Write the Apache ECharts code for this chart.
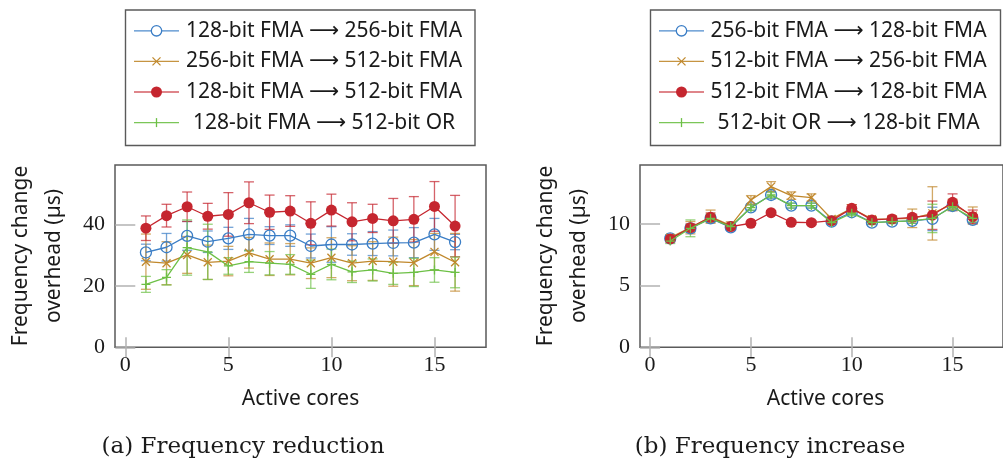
<!DOCTYPE html>
<html>
<head>
<meta charset="utf-8">
<title>Frequency change overhead</title>
<script src="https://cdn.jsdelivr.net/npm/echarts@6/dist/echarts.min.js"></script>
<style>
  html, body { margin: 0; padding: 0; background: #fff; }
  #chart { width: 1003px; height: 463px; }
</style>
</head>
<body>
<div id="chart"></div>
<script>
// ---- data ----
const cores = [1, 2, 3, 4, 5, 6, 7, 8, 9, 10, 11, 12, 13, 14, 15, 16];
const xTicks = [0, 5, 10, 15];
const yTicksReduction = [0, 20, 40];
const yTicksIncrease = [0, 5, 10];

// (a) Frequency reduction: mean overhead in µs and error half-width
const reductionNames = [
  '128-bit FMA \u27F6 256-bit FMA',
  '256-bit FMA \u27F6 512-bit FMA',
  '128-bit FMA \u27F6 512-bit FMA',
  '128-bit FMA \u27F6 512-bit OR'
];
const red128to256 = [30.9, 32.6, 36.3, 34.4, 35.5, 36.8, 36.4, 36.4, 33.0, 33.5, 33.5, 33.8, 34.0, 34.1, 36.8, 34.3];
const red128to256Err = [2.7, 4.5, 4.7, 3.5, 3.6, 5.2, 2.9, 3.5, 3.9, 5.8, 3.5, 3.9, 4.2, 4.9, 5.2, 2.5];
const red256to512 = [27.9, 27.4, 30.1, 27.7, 28.1, 30.8, 28.7, 28.7, 27.4, 29.2, 27.4, 28.1, 27.9, 27.6, 31.1, 27.7];
const red256to512Err = [9.0, 7.0, 6.0, 5.6, 4.8, 5.0, 5.3, 5.1, 5.0, 6.5, 5.7, 6.3, 8.0, 7.5, 6.0, 9.4];
const red128to512 = [38.8, 42.9, 45.8, 42.7, 43.3, 47.1, 44.0, 44.4, 40.4, 44.7, 40.9, 42.0, 41.2, 41.7, 45.9, 39.5];
const red128to512Err = [4.0, 3.7, 4.8, 4.2, 7.1, 6.8, 5.6, 5.0, 7.0, 5.2, 6.2, 4.6, 7.3, 7.4, 8.1, 10.0];
const red128to512or = [20.5, 22.8, 32.5, 31.1, 26.5, 27.9, 27.4, 27.0, 23.8, 27.0, 24.6, 25.2, 24.1, 24.4, 25.2, 24.4];
const red128to512orErr = [2.6, 2.5, 9.0, 9.0, 2.7, 3.5, 3.8, 3.2, 4.6, 5.0, 3.5, 3.6, 3.6, 4.6, 4.0, 5.0];

// (b) Frequency increase
const increaseNames = [
  '256-bit FMA \u27F6 128-bit FMA',
  '512-bit FMA \u27F6 256-bit FMA',
  '512-bit FMA \u27F6 128-bit FMA',
  '512-bit OR \u27F6 128-bit FMA'
];
const inc256to128 = [8.83, 9.64, 10.45, 9.72, 11.34, 12.34, 11.48, 11.48, 10.18, 10.94, 10.10, 10.18, 10.24, 10.40, 11.45, 10.32];
const inc256to128Err = [0.2, 0.3, 0.25, 0.2, 0.25, 0.3, 0.2, 0.2, 0.2, 0.2, 0.15, 0.15, 0.2, 0.95, 0.25, 0.2];
const inc512to256 = [8.88, 9.69, 10.58, 9.86, 11.94, 13.02, 12.29, 12.13, 10.40, 11.26, 10.38, 10.40, 10.45, 10.85, 11.59, 10.67];
const inc512to256Err = [0.25, 0.5, 0.54, 0.3, 0.35, 0.4, 0.3, 0.3, 0.2, 0.3, 0.2, 0.25, 0.75, 2.16, 0.4, 0.7];
const inc512to128 = [8.78, 9.69, 10.53, 9.78, 10.05, 10.91, 10.13, 10.10, 10.26, 11.26, 10.32, 10.40, 10.53, 10.70, 11.75, 10.58];
const inc512to128Err = [0.25, 0.3, 0.35, 0.2, 0.15, 0.15, 0.15, 0.15, 0.2, 0.3, 0.2, 0.2, 0.25, 1.15, 0.68, 0.54];
const inc512orTo128 = [8.61, 9.64, 10.45, 9.78, 11.31, 12.34, 11.48, 11.48, 10.10, 10.86, 10.10, 10.18, 10.24, 10.44, 11.39, 10.45];
const inc512orTo128Err = [0.2, 0.68, 0.3, 0.2, 0.2, 0.2, 0.2, 0.2, 0.15, 0.2, 0.15, 0.15, 0.2, 1.15, 0.3, 0.3];

// ---- styling ----
const COLORS = ['#3b7ec6', '#c0882c', '#c5262f', '#6dc046'];
const SANS = '"Noto Sans", "DejaVu Sans", sans-serif';
const SERIF = '"Liberation Serif", serif';
const CAPTION_SERIF = '"DejaVu Serif", serif';
const FRAME = '#5a5a5a';
const TICK = '#b3b3b3';

const MARKS = [
  { symbol: 'circle', size: 11, fill: 'rgba(255,255,255,0)', stroke: true },
  { symbol: 'path://M0 0L10 10M10 0L0 10', size: 8, fill: 'rgba(0,0,0,0)', stroke: true },
  { symbol: 'circle', size: 11, fill: null, stroke: false },
  { symbol: 'path://M5 0L5 10M0 5L10 5', size: 9, fill: 'rgba(0,0,0,0)', stroke: true }
];

function errorBarSeries(gi, means, errs, color, z) {
  return {
    type: 'custom',
    xAxisIndex: gi * 2,
    yAxisIndex: gi * 2,
    z: z,
    silent: true,
    encode: { x: 0, y: [1, 2] },
    data: cores.map((c, i) => [c, means[i] - errs[i], means[i] + errs[i]]),
    renderItem: function (params, api) {
      const x = api.value(0);
      const lo = api.coord([x, api.value(1)]);
      const hi = api.coord([x, api.value(2)]);
      const w = 5;
      const st = { stroke: color, lineWidth: 1.3, opacity: 0.72 };
      return {
        type: 'group',
        children: [
          { type: 'line', shape: { x1: lo[0], y1: lo[1], x2: hi[0], y2: hi[1] }, style: st },
          { type: 'line', shape: { x1: lo[0] - w, y1: lo[1], x2: lo[0] + w, y2: lo[1] }, style: st },
          { type: 'line', shape: { x1: hi[0] - w, y1: hi[1], x2: hi[0] + w, y2: hi[1] }, style: st }
        ]
      };
    }
  };
}

function lineSeries(gi, name, means, k) {
  const m = MARKS[k];
  const c = COLORS[k];
  return {
    type: 'line',
    name: name,
    xAxisIndex: gi * 2,
    yAxisIndex: gi * 2,
    z: 10 + k,
    data: cores.map((x, i) => [x, means[i]]),
    symbol: m.symbol,
    symbolSize: m.size,
    showAllSymbol: true,
    lineStyle: { color: c, width: 1.3 },
    itemStyle: m.stroke
      ? { color: m.fill, borderColor: c, borderWidth: 1.3 }
      : { color: c, borderWidth: 0 },
    emphasis: { disabled: true },
    animation: false
  };
}

function panelSeries(gi, names, meansList, errsList) {
  const out = [];
  meansList.forEach((m, k) => out.push(errorBarSeries(gi, m, errsList[k], COLORS[k], 2 + k)));
  meansList.forEach((m, k) => out.push(lineSeries(gi, names[k], m, k)));
  return out;
}

function xAxes(gi) {
  const tick = { inside: true, length: 10, customValues: xTicks, lineStyle: { color: TICK, width: 1.5 } };
  return [
    {
      gridIndex: gi, type: 'value', min: -0.5, max: 17.5, position: 'bottom',
      axisLine: { show: false }, splitLine: { show: false },
      axisTick: tick,
      axisLabel: { customValues: xTicks, fontFamily: SERIF, fontSize: 22, color: '#1a1a1a', margin: 7 }
    },
    {
      gridIndex: gi, type: 'value', min: -0.5, max: 17.5, position: 'top',
      axisLine: { show: false }, splitLine: { show: false },
      axisTick: tick, axisLabel: { show: false }
    }
  ];
}

function yAxes(gi, max, ticks) {
  const tick = { inside: true, length: 10, customValues: ticks, lineStyle: { color: TICK, width: 1.5 } };
  return [
    {
      gridIndex: gi, type: 'value', min: 0, max: max, position: 'left',
      axisLine: { show: false }, splitLine: { show: false },
      axisTick: tick,
      axisLabel: { customValues: ticks, fontFamily: SERIF, fontSize: 22, color: '#1a1a1a', margin: 10 }
    },
    {
      gridIndex: gi, type: 'value', min: 0, max: max, position: 'right',
      axisLine: { show: false }, splitLine: { show: false },
      axisTick: tick, axisLabel: { show: false }
    }
  ];
}

// legend drawn as a boxed table: sample line + marker, centred label
function legendGraphics(box, names) {
  const els = [];
  els.push({
    type: 'rect', shape: { x: box.x, y: box.y, width: box.w, height: box.h },
    style: { fill: '#fff', stroke: FRAME, lineWidth: 1.4 }, z: 100
  });
  names.forEach((name, k) => {
    const cy = box.y + 20.8 + k * 30.6;
    const c = COLORS[k];
    const sx = box.x + 8.5, ex = sx + 45, mx = (sx + ex) / 2;
    els.push({ type: 'line', shape: { x1: sx, y1: cy, x2: ex, y2: cy },
      style: { stroke: c, lineWidth: 1.3, opacity: k === 2 ? 0.75 : 0.9 }, z: 101 });
    if (k === 0) {
      els.push({ type: 'circle', shape: { cx: mx, cy: cy, r: 5.2 }, style: { fill: '#fff', stroke: c, lineWidth: 1.3 }, z: 102 });
    } else if (k === 1) {
      els.push({ type: 'line', shape: { x1: mx - 4, y1: cy - 4, x2: mx + 4, y2: cy + 4 }, style: { stroke: c, lineWidth: 1.3 }, z: 102 });
      els.push({ type: 'line', shape: { x1: mx - 4, y1: cy + 4, x2: mx + 4, y2: cy - 4 }, style: { stroke: c, lineWidth: 1.3 }, z: 102 });
    } else if (k === 2) {
      els.push({ type: 'circle', shape: { cx: mx, cy: cy, r: 5.5 }, style: { fill: c }, z: 102 });
    } else {
      els.push({ type: 'line', shape: { x1: mx, y1: cy - 4.5, x2: mx, y2: cy + 4.5 }, style: { stroke: c, lineWidth: 1.3 }, z: 102 });
    }
    els.push({
      type: 'text', x: box.textCx, y: cy, z: 102,
      style: { text: name, font: '21px ' + SANS, fill: '#1a1a1a', textAlign: 'center', textVerticalAlign: 'middle' }
    });
  });
  return els;
}

function yTitle(x) {
  return {
    type: 'text', x: x, y: 256, rotation: Math.PI / 2,
    style: {
      text: 'Frequency change\noverhead (\u00B5s)', font: '21px ' + SANS, lineHeight: 33,
      fill: '#1a1a1a', textAlign: 'center', textVerticalAlign: 'middle'
    }
  };
}

function xTitle(x) {
  return {
    type: 'text', x: x, y: 399.5,
    style: { text: 'Active cores', font: '21px ' + SANS, fill: '#1a1a1a', textAlign: 'center', textVerticalAlign: 'middle' }
  };
}

function caption(x, text) {
  return {
    type: 'text', x: x, y: 447.5,
    style: { text: text, font: '23px ' + CAPTION_SERIF, fill: '#1a1a1a', textAlign: 'center', textVerticalAlign: 'middle' }
  };
}

const chart = echarts.init(document.getElementById('chart'), null, { renderer: 'canvas' });

chart.setOption({
  animation: false,
  backgroundColor: '#fff',
  grid: [
    { left: 115, top: 165, width: 371, height: 182.3, show: true, borderColor: FRAME, borderWidth: 1.5, backgroundColor: 'rgba(0,0,0,0)' },
    { left: 640, top: 165, width: 371, height: 182.3, show: true, borderColor: FRAME, borderWidth: 1.5, backgroundColor: 'rgba(0,0,0,0)' }
  ],
  xAxis: [...xAxes(0), ...xAxes(1)],
  yAxis: [...yAxes(0, 59.4, yTicksReduction), ...yAxes(1, 14.77, yTicksIncrease)],
  series: [
    ...panelSeries(0, reductionNames,
      [red128to256, red256to512, red128to512, red128to512or],
      [red128to256Err, red256to512Err, red128to512Err, red128to512orErr]),
    ...panelSeries(1, increaseNames,
      [inc256to128, inc512to256, inc512to128, inc512orTo128],
      [inc256to128Err, inc512to256Err, inc512to128Err, inc512orTo128Err])
  ],
  graphic: [
    ...legendGraphics({ x: 125.5, y: 10, w: 349.5, h: 135.5, textCx: 324 }, reductionNames),
    ...legendGraphics({ x: 650.5, y: 10, w: 350, h: 135.5, textCx: 848.5 }, increaseNames),
    yTitle(38), yTitle(563),
    xTitle(300.5), xTitle(825.5),
    caption(243, '(a) Frequency reduction'),
    caption(770, '(b) Frequency increase')
  ]
});
</script>
</body>
</html>
